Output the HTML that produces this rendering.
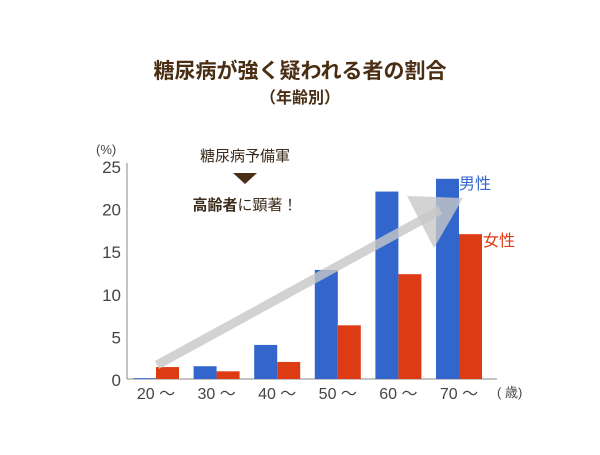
<!DOCTYPE html>
<html><head><meta charset="utf-8"><style>
body{margin:0;background:#fff;width:600px;height:450px;overflow:hidden;font-family:"Liberation Sans","Noto Sans CJK JP",sans-serif}
</style></head><body>
<svg width="600" height="450" style="font-family:'Liberation Sans','Noto Sans CJK JP',sans-serif">
<text x="300" y="78" text-anchor="middle" font-size="21" font-weight="bold" fill="#4a2e14">糖尿病が強く疑われる者の割合</text>
<text x="300" y="103" text-anchor="middle" font-size="16" font-weight="bold" fill="#4a2e14">（年齢別）</text>
<g id="axes"></g>
<g id="bars"></g>
<line x1="157" y1="365" x2="440" y2="210" stroke="#c8c8c8" stroke-width="9" opacity="0.8"/>
<polygon points="407,196 463,198 434,248" fill="#c8c8c8" opacity="0.8"/>
<text x="245" y="161" text-anchor="middle" font-size="15" fill="#3a2a1a">糖尿病予備軍</text>
<polygon points="233,173 257,173 245,184" fill="#4a2e14"/>
<text x="245" y="210" text-anchor="middle" font-size="15" fill="#3a2a1a"><tspan font-weight="bold">高齢者</tspan>に顕著！</text>
<text x="459" y="189" font-size="16" fill="#3366cc">男性</text>
<text x="483" y="246" font-size="16" fill="#dd3b14">女性</text>
</svg>
<script>
const categories=["20～","30～","40～","50～","60～","70～"];
const labels=["20 ～","30 ～","40 ～","50 ～","60 ～","70 ～"];
const male=[0.1,1.5,4.0,12.8,22.0,23.5];
const female=[1.4,0.9,2.0,6.3,12.3,17.0];
const yTicks=[0,5,10,15,20,25];
const NS="http://www.w3.org/2000/svg";
const y0=379,yTop=166,yMax=25;
const yScale=v=>y0-(v/yMax)*(y0-yTop);
const xCenter=i=>156+i*60.6;
const bw=23;
function mk(tag,attrs,parent){const e=document.createElementNS(NS,tag);for(const k in attrs)e.setAttribute(k,attrs[k]);parent.appendChild(e);return e;}
const axes=document.getElementById('axes'),bars=document.getElementById('bars');
let l=mk('line',{x1:127,y1:163,x2:127,y2:y0,stroke:'#888','stroke-width':1},axes);


l=mk('line',{x1:127,y1:y0,x2:497,y2:y0,stroke:'#888','stroke-width':1},axes);


yTicks.forEach(t=>{const e=mk('text',{x:121,y:yScale(t)+7,'text-anchor':'end','font-size':17,fill:'#444'},axes);e.textContent=t;

});
let u=mk('text',{x:96,y:154,'font-size':13,fill:'#444'},axes);u.textContent='(%)';


u=mk('text',{x:497,y:397,'font-size':13,fill:'#444'},axes);u.textContent='( 歳)';


categories.forEach((c,i)=>{
const cx=xCenter(i);
let r=mk('rect',{x:cx-bw,y:yScale(male[i]),width:bw,height:y0-yScale(male[i]),fill:'#3366cc'},bars);


r=mk('rect',{x:cx,y:yScale(female[i]),width:bw,height:y0-yScale(female[i]),fill:'#dd3b14'},bars);


const t=mk('text',{x:cx,y:399,'text-anchor':'middle','font-size':16,fill:'#444'},axes);t.textContent=labels[i];


});
</script>
</body></html>
